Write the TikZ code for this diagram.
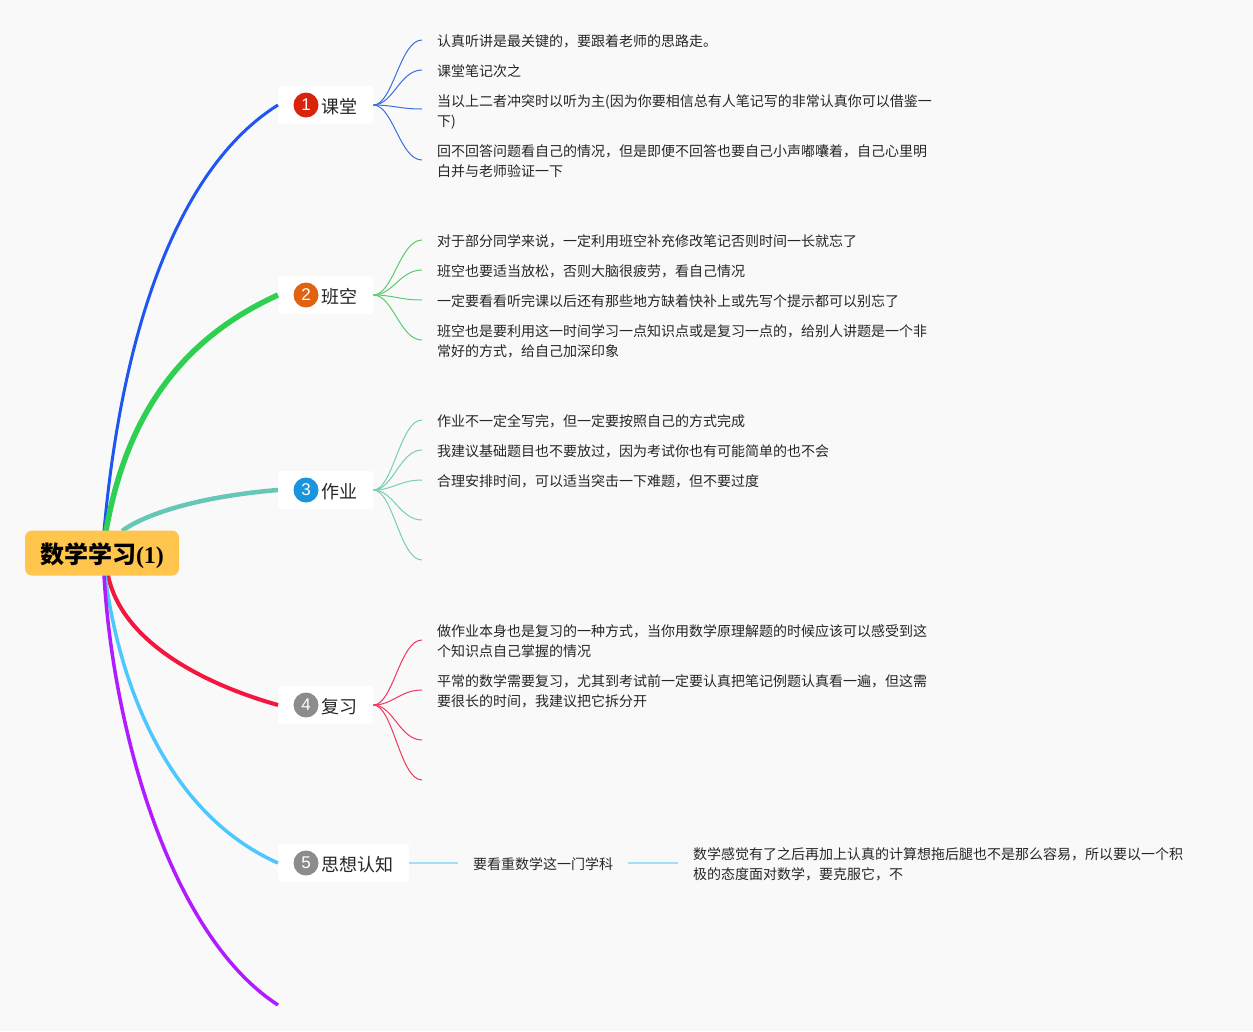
\documentclass[tikz,border=0pt]{standalone}
\usepackage{fontspec}
\setmainfont{Noto Sans CJK SC}
\newfontfamily\serifb{Liberation Serif}
\newfontfamily\sansb{Liberation Sans}
\definecolor{bgc}{HTML}{F9F9FA}
\definecolor{rootc}{HTML}{FFC54D}
\definecolor{cblue}{HTML}{1F55F0}
\definecolor{cgreen}{HTML}{2FD052}
\definecolor{cteal}{HTML}{66C7B6}
\definecolor{cred}{HTML}{F5163F}
\definecolor{csky}{HTML}{4CC8FF}
\definecolor{cpurp}{HTML}{B01CFF}
\definecolor{lblue}{HTML}{3A6FE0}
\definecolor{lgreen}{HTML}{5CCB70}
\definecolor{lteal}{HTML}{79CDB4}
\definecolor{lred}{HTML}{F0385A}
\definecolor{lsky}{HTML}{A5DFF5}
\definecolor{txtc}{HTML}{262626}
\definecolor{b1}{HTML}{D9230B}
\definecolor{b2}{HTML}{E0640F}
\definecolor{b3}{HTML}{1A94DA}
\definecolor{b4}{HTML}{8C8C8C}
\tikzset{
 x=1pt,y=-1pt,
 rootbox/.style={fill=rootc,rounded corners=7pt,minimum width=154pt,minimum height=45pt,inner sep=0pt},
 roottext/.style={inner sep=0pt,text=black,font=\fontsize{24}{28}\selectfont\bfseries},
 topicbox/.style={fill=white,rounded corners=2pt,minimum height=38pt,inner sep=0pt,anchor=west},
 toptext/.style={inner sep=0pt,anchor=west,text=txtc,font=\fontsize{18}{22}\selectfont},
 badge/.style={circle,minimum size=25pt,inner sep=0pt,text=white,font=\fontsize{17}{20}\sansb},
 leaftext/.style={inner sep=0pt,anchor=west,align=left,text=txtc,font=\fontsize{14}{20}\selectfont},
 leafline/.style={line width=1pt},
}
\begin{document}
\begin{tikzpicture}
\useasboundingbox[fill=bgc] (0,0) rectangle (1253,1031);
% anchors on the root
\coordinate (ra) at (104,531);
\coordinate (rb) at (106,531);
\coordinate (rc) at (122,531);
\coordinate (rd) at (108,575);
\coordinate (re) at (105,575);
\coordinate (rf) at (104,575);
\coordinate (endp) at (278,1005);
% topics
\node[topicbox,minimum width=95pt] (n1) at (278,105) {};
\node[topicbox,minimum width=95pt] (n2) at (278,295) {};
\node[topicbox,minimum width=95pt] (n3) at (278,490) {};
\node[topicbox,minimum width=95pt] (n4) at (278,705) {};
\node[topicbox,minimum width=131pt] (n5) at (278,863) {};
% main branches
\draw[cblue,line width=3pt] (ra) .. controls (125,300) and (190,160) .. (n1.west);
\draw[cgreen,line width=5.5pt] (rb) .. controls (128,405) and (190,335) .. (n2.west);
\draw[cteal,line width=4.5pt] (rc) .. controls (148,512) and (205,496) .. (n3.west);
\draw[cred,line width=4pt] (rd) .. controls (121,640) and (200,683) .. (n4.west);
\draw[csky,line width=3.5pt] (re) .. controls (120,690) and (170,815) .. (n5.west);
\draw[cpurp,line width=3.5pt] (rf) .. controls (113,730) and (170,935) .. (endp);
\node[rootbox] (root) at (102,553) {};
\node[roottext] (rootlabel) at (102,556) {数学学习{\serifb\bfseries\fontsize{24}{28}\selectfont (1)}};
% badges and labels
\node[badge,fill=b1] (c1) at (306,105) {1};
\node[badge,fill=b2] (c2) at (306,295) {2};
\node[badge,fill=b3] (c3) at (306,490) {3};
\node[badge,fill=b4] (c4) at (306,705) {4};
\node[badge,fill=b4] (c5) at (306,863) {5};
\node[toptext] (t1) at (321,106.5) {课堂};
\node[toptext] (t2) at (321,296.5) {班空};
\node[toptext] (t3) at (321,491.5) {作业};
\node[toptext] (t4) at (321,706.5) {复习};
\node[toptext] (t5) at (321,864.5) {思想认知};
% leaf texts
\node[leaftext] (a1) at (437,41.5) {认真听讲是最关键的，要跟着老师的思路走。};
\node[leaftext] (a2) at (437,71.5) {课堂笔记次之};
\node[leaftext] (a3) at (437,111.5) {当以上二者冲突时以听为主(因为你要相信总有人笔记写的非常认真你可以借鉴一\\下)};
\node[leaftext] (a4) at (437,161.5) {回不回答问题看自己的情况，但是即便不回答也要自己小声嘟囔着，自己心里明\\白并与老师验证一下};
\node[leaftext] (b1n) at (437,241.5) {对于部分同学来说，一定利用班空补充修改笔记否则时间一长就忘了};
\node[leaftext] (b2n) at (437,271.5) {班空也要适当放松，否则大脑很疲劳，看自己情况};
\node[leaftext] (b3n) at (437,301.5) {一定要看看听完课以后还有那些地方缺着快补上或先写个提示都可以别忘了};
\node[leaftext] (b4n) at (437,341.5) {班空也是要利用这一时间学习一点知识点或是复习一点的，给别人讲题是一个非\\常好的方式，给自己加深印象};
\node[leaftext] (c1n) at (437,421.5) {作业不一定全写完，但一定要按照自己的方式完成};
\node[leaftext] (c2n) at (437,451.5) {我建议基础题目也不要放过，因为考试你也有可能简单的也不会};
\node[leaftext] (c3n) at (437,481.5) {合理安排时间，可以适当突击一下难题，但不要过度};
\node[leaftext] (d1n) at (437,641.5) {做作业本身也是复习的一种方式，当你用数学原理解题的时候应该可以感受到这\\个知识点自己掌握的情况};
\node[leaftext] (d2n) at (437,691.5) {平常的数学需要复习，尤其到考试前一定要认真把笔记例题认真看一遍，但这需\\要很长的时间，我建议把它拆分开};
\node[leaftext] (e1n) at (473,864.5) {要看重数学这一门学科};
\node[leaftext] (e2n) at (693,864.5) {数学感觉有了之后再加上认真的计算想拖后腿也不是那么容易，所以要以一个积\\极的态度面对数学，要克服它，不};
% leaf connector ends
\foreach \nm/\yy in {pa1/40,pa2/70,pa3/109,pa4/160,pb1/240,pb2/270,pb3/300,pb4/340,pc1/420,pc2/450,pc3/480,pc4/520,pc5/560,pd1/640,pd2/690,pd3/740,pd4/780}
  \coordinate (\nm) at (422,\yy);
\coordinate (e1l) at (458,863);
\coordinate (e1r) at (628,863);
\coordinate (e2r) at (678,863);
% leaf connectors
\foreach \p in {pa1,pa2,pa3,pa4}
  \draw[leafline,lblue] (n1.east) .. controls (393,105) and (400,40 |- \p) .. (\p);
\foreach \p in {pb1,pb2,pb3,pb4}
  \draw[leafline,lgreen] (n2.east) .. controls (393,295) and (400,40 |- \p) .. (\p);
\foreach \p in {pc1,pc2,pc3,pc4,pc5}
  \draw[leafline,lteal] (n3.east) .. controls (393,490) and (400,40 |- \p) .. (\p);
\foreach \p in {pd1,pd2,pd3,pd4}
  \draw[leafline,lred] (n4.east) .. controls (393,705) and (400,40 |- \p) .. (\p);
\draw[lsky,line width=1.2pt] (n5.east) -- (e1l);
\draw[lsky,line width=1.2pt] (e1r) -- (e2r);
\end{tikzpicture}
\end{document}
